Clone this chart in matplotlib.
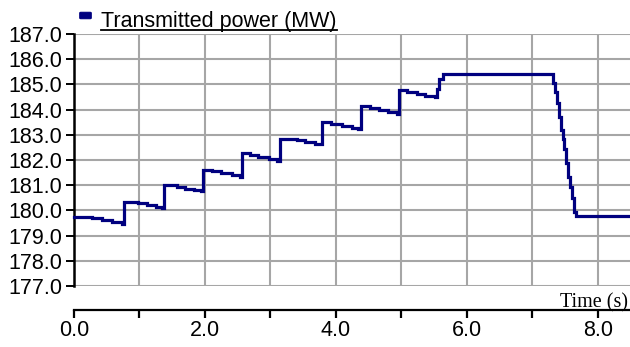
import matplotlib
matplotlib.use("Agg")
import matplotlib.pyplot as plt
from matplotlib.patches import FancyBboxPatch
from matplotlib.lines import Line2D
from matplotlib.ticker import MultipleLocator, FormatStrFormatter

# Transmitted power trace: breakpoints of a stepwise signal (time in s, power in MW)
time_s = [0.00, 0.27, 0.42, 0.58, 0.73,
          0.77, 0.98, 1.11, 1.25, 1.34,
          1.37, 1.57, 1.69, 1.83, 1.94,
          1.97, 2.10, 2.25, 2.41, 2.53,
          2.57, 2.69, 2.81, 2.97, 3.10,
          3.15, 3.40, 3.53, 3.68, 3.76,
          3.79, 3.93, 4.09, 4.24, 4.34,
          4.38, 4.52, 4.65, 4.80, 4.93,
          4.96, 5.08, 5.23, 5.36, 5.51,
          5.54, 5.58, 5.63,
          7.31, 7.34, 7.38, 7.41, 7.435, 7.46, 7.485, 7.51, 7.547, 7.58, 7.61, 7.64, 7.66,
          8.50]
power_mw = [179.75, 179.68, 179.61, 179.55, 179.47,
            180.35, 180.28, 180.21, 180.13, 180.08,
            181.00, 180.93, 180.86, 180.80, 180.76,
            181.62, 181.55, 181.47, 181.39, 181.33,
            182.27, 182.20, 182.12, 182.04, 181.97,
            182.85, 182.78, 182.71, 182.64, 182.62,
            183.50, 183.43, 183.36, 183.27, 183.22,
            184.15, 184.06, 183.98, 183.90, 183.84,
            184.76, 184.68, 184.62, 184.55, 184.49,
            184.80, 185.22, 185.40,
            185.05, 184.71, 184.27, 183.69, 183.19, 182.83, 182.42, 181.87, 181.34, 180.94, 180.48, 179.95, 179.78,
            179.78]

series_label = "Transmitted power (MW)"
x_label = "Time (s)"

NAVY = "#00007f"
GRID = "#a6a6a6"
FS = 15.5

plt.rcParams["font.family"] = ["Liberation Sans", "DejaVu Sans"]

W, H = 630, 347
fig = plt.figure(figsize=(W / 100, H / 100), dpi=100)
ax = fig.add_axes([74 / W, 1 - 286 / H, (W - 74) / W, (286 - 34) / H])

ax.plot(time_s, power_mw, drawstyle="steps-post", color=NAVY, lw=2.3,
        solid_joinstyle="miter", clip_on=False, zorder=3)

ax.set_xlim(0, 8.49)
ax.set_ylim(177, 187)

ax.xaxis.set_major_locator(MultipleLocator(2.0))
ax.xaxis.set_minor_locator(MultipleLocator(1.0))
ax.xaxis.set_major_formatter(FormatStrFormatter("%.1f"))
ax.yaxis.set_major_locator(MultipleLocator(1.0))
ax.yaxis.set_major_formatter(FormatStrFormatter("%.1f"))

ax.grid(True, which="both", axis="x", color=GRID, lw=1.5)
ax.grid(True, which="major", axis="y", color=GRID, lw=1.5)
ax.set_axisbelow(True)

for side in ("top", "right"):
    ax.spines[side].set_visible(False)
ax.spines["left"].set_linewidth(1.8)
ax.spines["bottom"].set_linewidth(1.6)
ax.spines["bottom"].set_position(("outward", 17.3))

ax.tick_params(axis="x", which="both", direction="out", length=6, width=1.6,
               labelsize=FS, pad=1.5)
ax.tick_params(axis="y", direction="out", length=5.5, width=1.4,
               labelsize=FS, pad=3)

# legend entry: small rounded swatch plus underlined label
fig.add_artist(FancyBboxPatch((81 / W, 1 - 18 / H), 9 / W, 5 / H,
                              boxstyle="round,pad=0.002", transform=fig.transFigure,
                              facecolor=NAVY, edgecolor=NAVY, lw=0.8))
leg = fig.text(101 / W, 1 - 27 / H, series_label, fontsize=FS, va="baseline", ha="left")

fig.text(628 / W, 1 - 307 / H, x_label, fontsize=14.5, va="baseline", ha="right",
         family=["Liberation Serif", "DejaVu Serif"])

fig.canvas.draw()
bb = leg.get_window_extent()
y_ul = 1 - 29.5 / H
fig.add_artist(Line2D([bb.x0 / W, bb.x1 / W], [y_ul, y_ul], transform=fig.transFigure,
                      color="black", lw=1.3))

fig.savefig("out.png", dpi=100)
